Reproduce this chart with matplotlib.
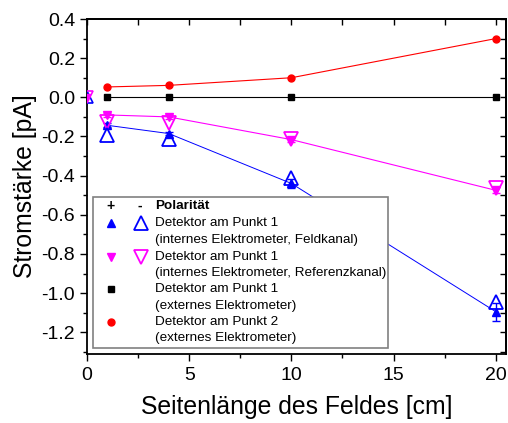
import matplotlib
matplotlib.use('Agg')
import matplotlib.pyplot as plt
from matplotlib.patches import Rectangle
from matplotlib.ticker import MultipleLocator

plt.rcParams['font.family'] = ['Liberation Sans', 'DejaVu Sans']

# Data
seitenlaenge = [1, 4, 10, 20]

feld_plus = [-0.143, -0.185, -0.44, -1.095]
feld_plus_err = [0.01, 0.01, 0.025, 0.045]
feld_minus = [-0.19, -0.212, -0.413, -1.044]

ref_plus = [-0.09, -0.10, -0.216, -0.475]
ref_plus_err = [0.01, 0.01, 0.01, 0.015]
ref_minus = [-0.128, -0.13, -0.215, -0.465]

extern_p1 = [0.0, 0.0, 0.0, 0.0]
extern_p2 = [0.053, 0.061, 0.10, 0.30]

# points at the origin (half hidden behind the axis)
origin_x = [0]
origin_y = [0]

BLUE = '#0000ff'
MAGENTA = '#ff00ff'
RED = '#ff0000'

fig = plt.figure(figsize=(5.08, 4.23), dpi=100)
ax = fig.add_axes([87 / 508, 69 / 423, 419 / 508, 335 / 423])

# lines through the filled points
ax.plot(seitenlaenge, extern_p2, color=RED, lw=0.8, marker='o', ms=5, zorder=3)
ax.plot(seitenlaenge, extern_p1, color='black', lw=0.8, marker='s', ms=4.5, zorder=3)
ax.plot(seitenlaenge, ref_plus, color=MAGENTA, lw=0.8, zorder=2)
ax.plot(seitenlaenge, feld_plus, color=BLUE, lw=0.7, zorder=2)

ax.errorbar(seitenlaenge, ref_plus, yerr=ref_plus_err, fmt='v', color=MAGENTA,
            ms=6, elinewidth=1, capsize=3, capthick=1, zorder=4)
ax.errorbar(seitenlaenge, feld_plus, yerr=feld_plus_err, fmt='^', color=BLUE,
            ms=6, elinewidth=1, capsize=3, capthick=1, zorder=4)

ax.plot(seitenlaenge, ref_minus, ls='none', marker='v', ms=10, mfc='none',
        mec=MAGENTA, mew=1.3, zorder=5)
ax.plot(seitenlaenge, feld_minus, ls='none', marker='^', ms=10, mfc='none',
        mec=BLUE, mew=1.3, zorder=5)

ax.plot(origin_x, origin_y, ls='none', marker='^', ms=8, mfc='none', mec=BLUE, mew=1.2, zorder=5)
ax.plot(origin_x, origin_y, ls='none', marker='v', ms=8, mfc='none', mec=MAGENTA, mew=1.2, zorder=5)
ax.plot(origin_x, origin_y, ls='none', marker='v', ms=5, color=MAGENTA, zorder=5)

ax.set_xlim(0, 20.5)
ax.set_ylim(-1.311, 0.4)
ax.xaxis.set_minor_locator(MultipleLocator(2.5))
ax.yaxis.set_minor_locator(MultipleLocator(0.1))
ax.set_xticks([0, 5, 10, 15, 20])
ax.set_xticklabels(['0', '5', '10', '15', '20'])
ax.set_yticks([0.4, 0.2, 0.0, -0.2, -0.4, -0.6, -0.8, -1.0, -1.2])
ax.set_yticklabels(['0.4', '0.2', '0.0', '-0.2', '-0.4', '-0.6', '-0.8', '-1.0', '-1.2'])

ax.tick_params(which='major', direction='out', length=5, width=1, labelsize=14)
ax.tick_params(axis='y', which='major', pad=3.5)
ax.tick_params(axis='x', which='major', pad=4.5)
ax.tick_params(which='minor', direction='out', length=3, width=1)

# mirrored ticks on top / right pointing inward
top = ax.secondary_xaxis('top')
top.xaxis.set_major_locator(MultipleLocator(5))
top.xaxis.set_minor_locator(MultipleLocator(2.5))
top.tick_params(which='both', direction='in', length=4, width=1, labeltop=False)
right = ax.secondary_yaxis('right')
right.yaxis.set_major_locator(MultipleLocator(0.2))
right.yaxis.set_minor_locator(MultipleLocator(0.1))
right.tick_params(which='both', direction='in', length=4, width=1, labelright=False)
for a in (ax, top, right):
    for s in a.spines.values():
        s.set_linewidth(1.3)

ax.set_xlabel('Seitenlänge des Feldes [cm]', fontsize=17.8, labelpad=8)
ax.set_ylabel('Stromstärke [pA]', fontsize=17.8, labelpad=3)

# hand-made legend (two marker columns for + and - polarity)
def fx(px):
    return (px - 87) / 419

def fy(py):
    return (354 - py) / 335

ax.add_patch(Rectangle((fx(93), fy(348)), fx(388) - fx(93), fy(197) - fy(348),
                       transform=ax.transAxes, fc='white', ec='#808080', lw=1.2, zorder=6))

rows = [205.7, 223.3, 240, 256.7, 272.7, 289.3, 306, 321.7, 338.3]
lines = ['Polarität',
         'Detektor am Punkt 1', '(internes Elektrometer, Feldkanal)',
         'Detektor am Punkt 1', '(internes Elektrometer, Referenzkanal)',
         'Detektor am Punkt 1', '(externes Elektrometer)',
         'Detektor am Punkt 2', '(externes Elektrometer)']
tx = fx(155)
for i, (r, t) in enumerate(zip(rows, lines)):
    ax.text(tx, fy(r), t, transform=ax.transAxes, fontsize=9.7, va='center', ha='left',
            fontweight='bold' if i == 0 else 'normal', zorder=7)
ax.text(fx(110.7), fy(rows[0]), '+', transform=ax.transAxes, fontsize=10, fontweight='bold',
        ha='center', va='center', zorder=7)
ax.text(fx(140), fy(rows[0]), '-', transform=ax.transAxes, fontsize=10, fontweight='bold',
        ha='center', va='center', zorder=7)

c1, c2 = fx(110.7), fx(140.7)
kw = dict(transform=ax.transAxes, ls='none', zorder=7, clip_on=False)
ax.plot([c1], [fy(rows[1])], marker='^', ms=5.5, color=BLUE, **kw)
ax.plot([c2], [fy(rows[1])], marker='^', ms=10, mfc='none', mec=BLUE, mew=1.3, **kw)
ax.plot([c1], [fy(rows[3])], marker='v', ms=5.5, color=MAGENTA, **kw)
ax.plot([c2], [fy(rows[3])], marker='v', ms=10, mfc='none', mec=MAGENTA, mew=1.3, **kw)
ax.plot([c1], [fy(rows[5])], marker='s', ms=4.5, color='black', **kw)
ax.plot([c1], [fy(rows[7])], marker='o', ms=5, color=RED, **kw)

fig.savefig('out.png', dpi=100)
